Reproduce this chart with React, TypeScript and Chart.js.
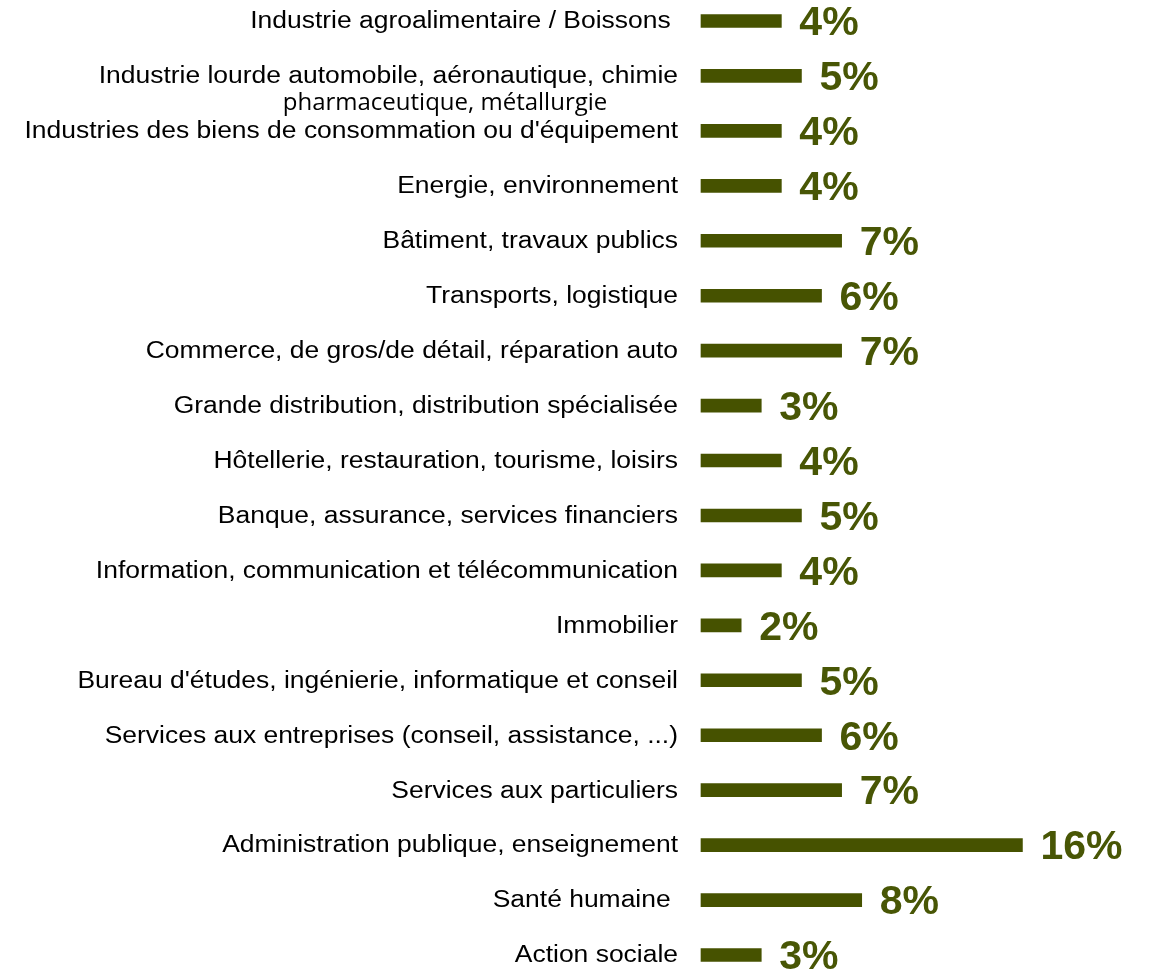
import React, { useEffect, useRef } from "react";
import { Chart, registerables } from "chart.js";

Chart.register(...registerables);

const categories: string[] = [
  "Industrie agroalimentaire / Boissons ",
  "Industrie lourde automobile, aéronautique, chimie",
  "Industries des biens de consommation ou d'équipement",
  "Energie, environnement",
  "Bâtiment, travaux publics",
  "Transports, logistique",
  "Commerce, de gros/de détail, réparation auto",
  "Grande distribution, distribution spécialisée",
  "Hôtellerie, restauration, tourisme, loisirs",
  "Banque, assurance, services financiers",
  "Information, communication et télécommunication",
  "Immobilier",
  "Bureau d'études, ingénierie, informatique et conseil",
  "Services aux entreprises (conseil, assistance, ...)",
  "Services aux particuliers",
  "Administration publique, enseignement",
  "Santé humaine ",
  "Action sociale",
];

const subLineIndex = 1;
const subLineText = "pharmaceutique, métallurgie";

const values: number[] = [4, 5, 4, 4, 7, 6, 7, 3, 4, 5, 4, 2, 5, 6, 7, 16, 8, 3];

const BAR_COLOR = "#465200";
const VALUE_COLOR = "#485605";

const labelsPlugin = {
  id: "customLabels",
  afterDatasetsDraw(chart: any) {
    const ctx = chart.ctx as CanvasRenderingContext2D;
    const yScale = chart.scales.y;
    const meta = chart.getDatasetMeta(0);
    const area = chart.chartArea;

    // category labels
    ctx.save();
    ctx.fillStyle = "#000000";
    ctx.font = '23px "Liberation Sans", Arial, sans-serif';
    ctx.textAlign = "right";
    ctx.textBaseline = "middle";
    const sx = 1.15;
    categories.forEach((c, i) => {
      const y = yScale.getPixelForValue(i) + 1;
      const x = area.left - 23;
      ctx.save();
      ctx.translate(x, y);
      ctx.scale(sx, 1);
      ctx.fillText(c, 0, 0);
      ctx.restore();
    });
    // second line
    {
      const y = yScale.getPixelForValue(subLineIndex) + 27;
      ctx.font = '24px "Open Sans", "Noto Sans", sans-serif';
      ctx.textAlign = "center";
      ctx.fillText(subLineText, 445, y);
    }
    ctx.restore();

    // value labels
    ctx.save();
    ctx.fillStyle = VALUE_COLOR;
    ctx.font = 'bold 41px "Liberation Sans", Arial, sans-serif';
    ctx.textAlign = "left";
    ctx.textBaseline = "middle";
    meta.data.forEach((bar: any, i: number) => {
      ctx.fillText(values[i] + "%", bar.x + 18, bar.y + 3);
    });
    ctx.restore();
  },
};

export default function App() {
  const canvasRef = useRef<HTMLCanvasElement | null>(null);

  useEffect(() => {
    if (!canvasRef.current) return;
    const chart = new Chart(canvasRef.current, {
      type: "bar",
      data: {
        labels: categories,
        datasets: [
          {
            data: values,
            backgroundColor: BAR_COLOR,
            borderWidth: 0,
            barThickness: 13,
            clip: false,
          },
        ],
      },
      options: {
        indexAxis: "y",
        animation: false,
        responsive: false,
        layout: { padding: { left: 701, top: 21, bottom: 16, right: 0 } },
        plugins: {
          legend: { display: false },
          tooltip: { enabled: false },
        },
        scales: {
          x: {
            display: false,
            min: 0,
            max: 22.4,
          },
          y: {
            display: false,
            offset: false,
            grid: { display: false },
          },
        },
      },
      plugins: [labelsPlugin],
    });
    return () => chart.destroy();
  }, []);

  return (
    <div style={{ position: "fixed", left: 0, top: 0, width: 1151, height: 971, background: "#fff" }}>
      <canvas ref={canvasRef} width={1151} height={971} style={{ display: "block" }} />
    </div>
  );
}
